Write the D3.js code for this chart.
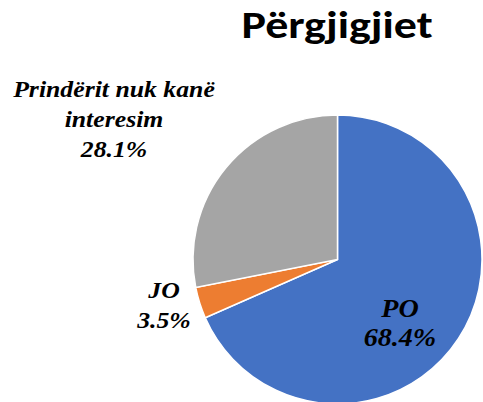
<!DOCTYPE html>
<html>
<head>
<meta charset="utf-8">
<script src="https://cdn.jsdelivr.net/npm/d3@7"></script>
<style>
  html, body { margin: 0; padding: 0; background: #fff; }
  svg { display: block; }
</style>
</head>
<body>
<svg id="chart" width="483" height="402"></svg>
<script>
// Answers and their shares (%)
const categories = ["PO", "JO", "Prindërit nuk kanë interesim"];
const values = [68.4, 3.5, 28.1];
const colors = ["#4472C4", "#ED7D31", "#A5A5A5"];
const title = "Përgjigjiet";

const svg = d3.select("#chart");
const cx = 337.5, cy = 259.5, r = 144.5;

svg.append("g")
  .attr("transform", "translate(337,38) scale(1.18,1)")
  .append("text")
  .attr("text-anchor", "middle")
  .style("font-family", "Carlito, 'Open Sans', sans-serif")
  .style("font-weight", "700")
  .style("font-size", "39px")
  .attr("fill", "#000")
  .text(title);

const pie = d3.pie().sort(null).value(d => d.v);
const arcs = pie(categories.map((c, i) => ({ c, v: values[i], col: colors[i] })));
const arc = d3.arc().innerRadius(0).outerRadius(r);

const g = svg.append("g").attr("transform", `translate(${cx},${cy})`);
g.selectAll("path").data(arcs).join("path")
  .attr("d", arc)
  .attr("fill", d => d.data.col)
  .attr("stroke", "#fff")
  .attr("stroke-width", 1.5);

// Label blocks: lines of text, placed by centre x and first baseline
const labels = [
  { lines: ["PO", values[0].toFixed(1) + "%"], x: 400, y: 316.5, size: 26, sx: 1.08 },
  { lines: ["JO", values[1].toFixed(1) + "%"], x: 164, y: 298, size: 23, sx: 1.12 },
  { lines: ["Prindërit nuk kanë", "interesim", values[2].toFixed(1) + "%"], x: 114, y: 97, size: 23, sx: 1.12 }
];
labels.forEach(l => {
  const t = svg.append("g")
    .attr("transform", `translate(${l.x},${l.y}) scale(${l.sx},1)`)
    .append("text")
    .attr("text-anchor", "middle")
    .style("font-family", "'Liberation Serif', 'Times New Roman', serif")
    .style("font-weight", "700")
    .style("font-style", "italic")
    .style("font-size", l.size + "px")
    .attr("fill", "#000");
  l.lines.forEach((s, i) => {
    t.append("tspan").attr("x", 0).attr("y", i * 30).text(s);
  });
});
</script>
</body>
</html>
